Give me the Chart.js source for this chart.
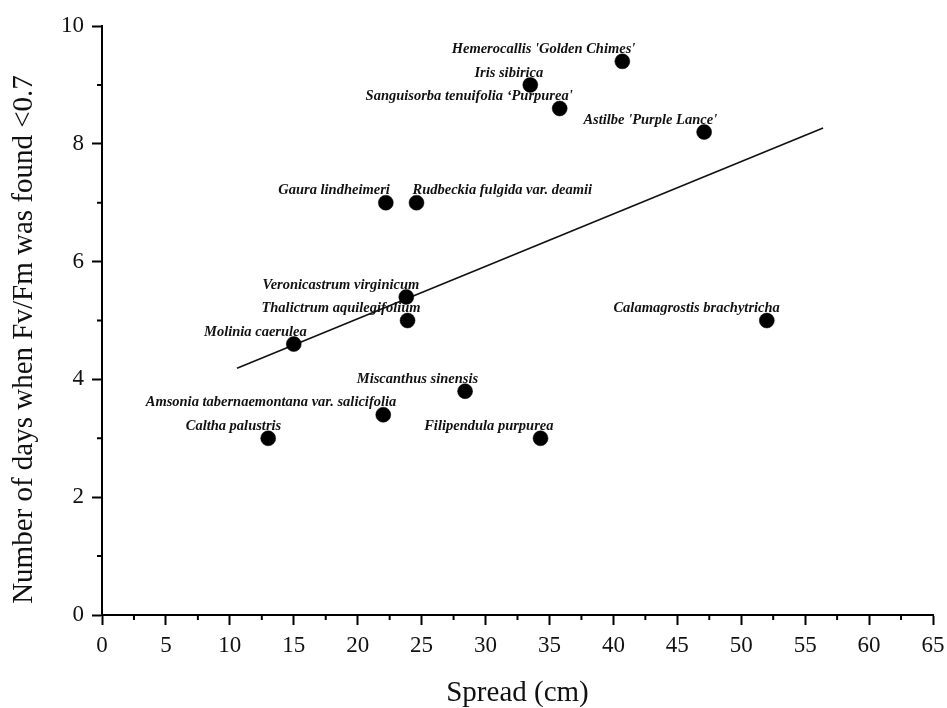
<!DOCTYPE html>
<html>
<head>
<meta charset="utf-8">
<script src="https://cdn.jsdelivr.net/npm/chart.js@4/dist/chart.umd.min.js"></script>
<style>
    html, body { margin: 0; padding: 0; background: #fff; }
    #wrap { width: 947px; height: 708px; }
</style>
</head>
<body>
<div id="wrap"><canvas id="spread-chart"></canvas></div>
<script>
// species, spread (cm) and days with Fv/Fm < 0.7
const species = [
    "Hemerocallis 'Golden Chimes'",
    'Iris sibirica',
    'Sanguisorba tenuifolia \u2018Purpurea\'',
    "Astilbe 'Purple Lance'",
    'Gaura lindheimeri',
    'Rudbeckia fulgida var. deamii',
    'Veronicastrum virginicum',
    'Thalictrum aquilegifolium',
    'Molinia caerulea',
    'Calamagrostis brachytricha',
    'Miscanthus sinensis',
    'Amsonia tabernaemontana var. salicifolia',
    'Caltha palustris',
    'Filipendula purpurea'
];
const spread = [40.7, 33.5, 35.8, 47.1, 22.2, 24.6, 23.8, 23.9, 15.0, 52.0, 28.4, 22.0, 13.0, 34.3];
const days = [9.4, 9.0, 8.6, 8.2, 7.0, 7.0, 5.4, 5.0, 4.6, 5.0, 3.8, 3.4, 3.0, 3.0];

// fitted line end points
const fitX = [10.56, 56.4];
const fitY = [4.19, 8.27];

const yTitle = 'Number of days when Fv/Fm was found <0.7';
const serif = "'Liberation Serif', 'Times New Roman', serif";

// where each name sits next to its dot
const labelAlign = {
    'Gaura lindheimeri': {align: 'right', dx: 4},
    'Rudbeckia fulgida var. deamii': {align: 'left', dx: -4}
};

const pointLabels = {
    id: 'pointLabels',
    afterDatasetsDraw(chart) {
        const ctx = chart.ctx;
        const meta = chart.getDatasetMeta(0);
        ctx.save();
        ctx.font = "bold italic 14.5px " + serif;
        ctx.fillStyle = '#111';
        ctx.textBaseline = 'middle';
        meta.data.forEach((pt, i) => {
            const name = species[i];
            const a = labelAlign[name] || {align: 'right', dx: 13};
            ctx.textAlign = a.align;
            ctx.fillText(name, pt.x + a.dx, pt.y - 12);
        });
        ctx.restore();
    }
};

// minor ticks + the y title (sits a bit below the axis centre in the original)
const axisExtras = {
    id: 'axisExtras',
    afterDraw(chart) {
        const ctx = chart.ctx;
        const xs = chart.scales.x;
        const ys = chart.scales.y;
        ctx.save();
        ctx.strokeStyle = '#000';
        ctx.lineWidth = 2;
        ctx.beginPath();
        for (let v = 2.5; v < 65; v += 5) {
            const px = xs.getPixelForValue(v);
            ctx.moveTo(px, ys.bottom);
            ctx.lineTo(px, ys.bottom + 5);
        }
        for (let v = 1; v < 10; v += 2) {
            const py = ys.getPixelForValue(v);
            ctx.moveTo(xs.left, py);
            ctx.lineTo(xs.left - 5, py);
        }
        ctx.stroke();

        ctx.translate(24, (ys.top + ys.bottom) / 2 + 19);
        ctx.rotate(-Math.PI / 2);
        ctx.font = '29px ' + serif;
        ctx.fillStyle = '#111';
        ctx.textAlign = 'center';
        ctx.textBaseline = 'middle';
        ctx.fillText(yTitle, 0, 0);
        ctx.restore();
    }
};

new Chart(document.getElementById('spread-chart'), {
    type: 'scatter',
    data: {
        datasets: [{
            label: 'Species',
            data: spread.map((x, i) => ({x: x, y: days[i]})),
            backgroundColor: '#000',
            borderColor: '#000',
            pointRadius: 7.5,
            pointBorderWidth: 0.5,
            pointHoverRadius: 7.5
        }, {
            label: 'Fit',
            type: 'line',
            data: fitX.map((x, i) => ({x: x, y: fitY[i]})),
            borderColor: '#111',
            borderWidth: 1.6,
            pointRadius: 0,
            fill: false
        }]
    },
    options: {
        responsive: true,
        maintainAspectRatio: false,
        animation: false,
        layout: {
            padding: {top: 26, right: 14, bottom: 0, left: 0}
        },
        plugins: {
            legend: {display: false},
            tooltip: {enabled: false}
        },
        scales: {
            x: {
                type: 'linear',
                min: 0,
                max: 65,
                ticks: {
                    stepSize: 5,
                    color: '#111',
                    padding: 7,
                    font: {family: serif, size: 23}
                },
                grid: {
                    drawOnChartArea: false,
                    drawTicks: true,
                    tickLength: 10,
                    tickWidth: 2,
                    tickColor: '#000'
                },
                border: {color: '#000', width: 2},
                title: {
                    display: true,
                    text: 'Spread (cm)',
                    color: '#111',
                    font: {family: serif, size: 29, lineHeight: 1},
                    padding: {top: 0, bottom: 0}
                },
                afterFit(scale) {
                    scale.height = 93;
                    scale.paddingRight = 14;
                }
            },
            y: {
                min: 0,
                max: 10,
                ticks: {
                    stepSize: 2,
                    color: '#111',
                    padding: 8,
                    font: {family: serif, size: 23}
                },
                grid: {
                    drawOnChartArea: false,
                    drawTicks: true,
                    tickLength: 10,
                    tickWidth: 2,
                    tickColor: '#000'
                },
                border: {color: '#000', width: 2},
                title: {display: false},
                afterFit(scale) { scale.width = 102; }
            }
        }
    },
    plugins: [pointLabels, axisExtras]
});
</script>
</body>
</html>
